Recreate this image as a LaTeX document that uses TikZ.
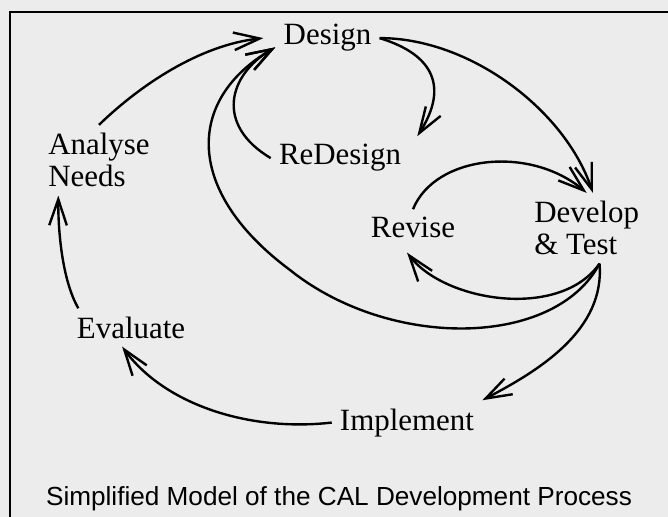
\documentclass[tikz,border=0pt]{standalone}
\usepackage{fontspec}
\setmainfont{Liberation Serif}
\setsansfont{Liberation Sans}
\usetikzlibrary{arrows.meta}
\definecolor{paper}{RGB}{236,236,236}

\begin{document}
\begin{tikzpicture}
  [x=0.025cm, y=-0.025cm,
   every node/.style={font=\fontsize{22}{23}\selectfont, inner sep=0.2cm, align=left},
   flow/.style={-{Straight Barb[length=0.65cm, width=0.44cm]}, line width=1.7pt}]
  \useasboundingbox (0,0) rectangle (668,517);
  \fill[paper] (0,0) rectangle (668,517);
  \draw[line width=1.6pt] (668,12) -- (10,12) -- (10,517);

  \node (design) [anchor=base] at (327.5,45) {Design};
  \node (analyse) [anchor=base west] at (40,187) {Analyse\\Needs};
  \node (redesign) [anchor=base] at (340,165) {ReDesign};
  \node (revise) [anchor=base] at (413,238) {Revise};
  \node (develop) [anchor=base west] at (526,255) {Develop\\\& Test};
  \node (evaluate) [anchor=base] at (131,338) {Evaluate};
  \node (implement) [anchor=base] at (407,430) {Implement};
  \node (title) [anchor=base, font=\sffamily\fontsize{18.6}{20}\selectfont] at (339,505)
    {Simplified Model of the CAL Development Process};

  \draw[flow] (analyse.north) .. controls (140,85) and (200,45) .. ([xshift=-3mm]design.west);
  \draw[flow] (design.east) .. controls (435,55) and (448,88) .. ([xshift=2mm]redesign.north east);
  \draw[flow] (redesign.west) .. controls (215,125) and (228,75) .. (design.190);
  \draw[flow] (design.east) .. controls (470,38) and (565,110) .. (develop.80);
  \draw[flow] (revise.north) .. controls (435,155) and (530,145) .. (develop.north);
  \draw[flow] (develop.290) .. controls (560,320) and (445,302) .. ([xshift=-1.5mm,yshift=-1.5mm]revise.south);
  \draw[flow] (develop.290) .. controls (555,348) and (390,350) .. (290,270)
    .. controls (185,192) and (185,100) .. (design.190);
  \draw[flow] (develop.290) .. controls (605,330) and (540,370) .. (implement.north east);
  \draw[flow] (implement.west) .. controls (250,432) and (165,405) .. (evaluate.245);
  \draw[flow] (evaluate.160) .. controls (62,280) and (58,230) .. (analyse.221);
\end{tikzpicture}
\end{document}
